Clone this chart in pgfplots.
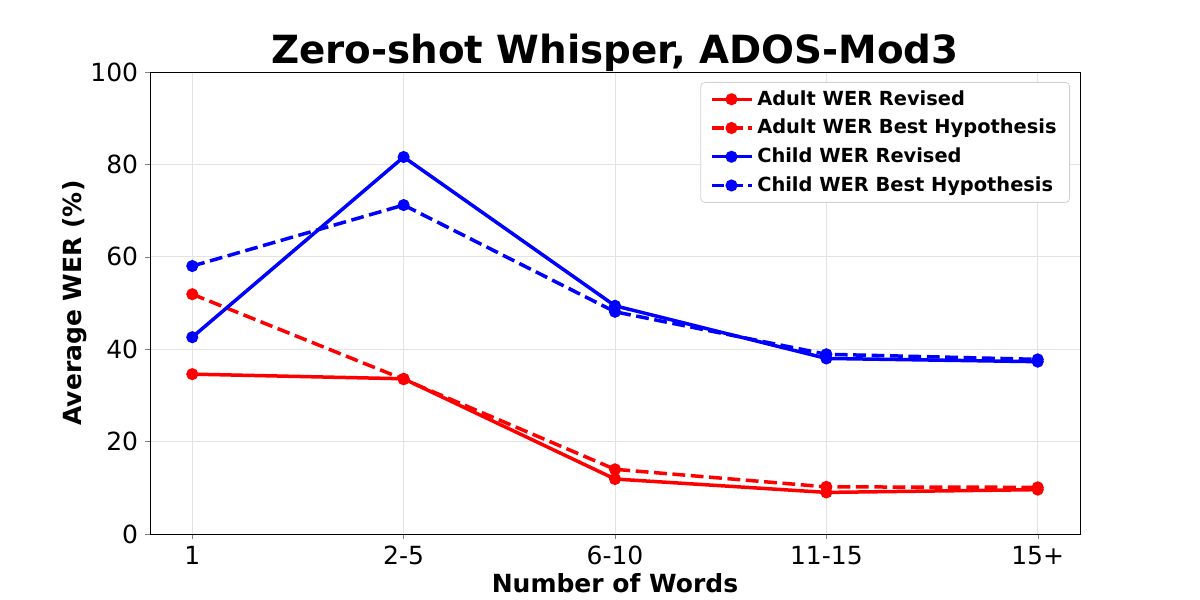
\documentclass[border=0pt]{standalone}
\usepackage{fontspec}
\setmainfont{DejaVu Sans}
\usepackage{pgfplots}
\pgfplotsset{compat=1.18}
\begin{document}
\begin{tikzpicture}
\path[use as bounding box] (-75pt,-33pt) rectangle (525pt,267pt);
\begin{axis}[
 at={(0,0)}, anchor=south west,
 scale only axis, width=465pt, height=231pt,
 xmin=-0.2, xmax=4.2, ymin=0, ymax=100,
 xtick={0,1,2,3,4}, xticklabels={1,2-5,6-10,11-15,15+},
 ytick={0,20,40,60,80,100},
 tick align=outside, tick pos=left,
 major tick length=2.4pt,
 grid=major, grid style={gray!22, line width=0.4pt},
 axis line style={line width=0.4pt},
 tick label style={font=\fontsize{12.5}{14}\selectfont},
 /pgf/number format/assume math mode=true,
 xlabel={Number of Words}, ylabel={Average WER (\%)},
 label style={font=\fontsize{12.5}{14}\selectfont\bfseries},
 xlabel style={yshift=2.5pt},
 ylabel style={yshift=-5pt},
 title={Zero-shot Whisper, ADOS-Mod3},
 title style={font=\fontsize{19.4}{22}\selectfont\bfseries, yshift=-9.5pt},
 legend style={at={(1,1)}, anchor=north east, xshift=-5pt, yshift=-5pt,
   draw=gray!35, rounded corners=2pt, font=\fontsize{9.7}{11.6}\selectfont\bfseries,
   row sep=1.5pt, inner xsep=4.5pt, inner ysep=2pt},
 legend cell align=left,
 legend image code/.code={\draw[mark repeat=2, mark phase=2] plot coordinates {(0pt,0pt) (10pt,0pt) (20pt,0pt)};},
 every axis plot/.append style={line width=1.75pt, mark=*, mark size=2.1pt},
]
\addplot[red, solid, mark options={solid}] coordinates {(0,34.6) (1,33.6) (2,11.9) (3,9.0) (4,9.6)};
\addlegendentry{Adult WER Revised}
\addplot[red, dash pattern=on 6.4pt off 2.8pt, mark options={solid}] coordinates {(0,51.9) (1,33.5) (2,14.0) (3,10.2) (4,10.1)};
\addlegendentry{Adult WER Best Hypothesis}
\addplot[blue, solid, mark options={solid}] coordinates {(0,42.6) (1,81.6) (2,49.4) (3,38.0) (4,37.3)};
\addlegendentry{Child WER Revised}
\addplot[blue, dash pattern=on 6.4pt off 2.8pt, mark options={solid}] coordinates {(0,58.0) (1,71.2) (2,48.1) (3,38.9) (4,37.8)};
\addlegendentry{Child WER Best Hypothesis}
\end{axis}
\end{tikzpicture}
\end{document}
